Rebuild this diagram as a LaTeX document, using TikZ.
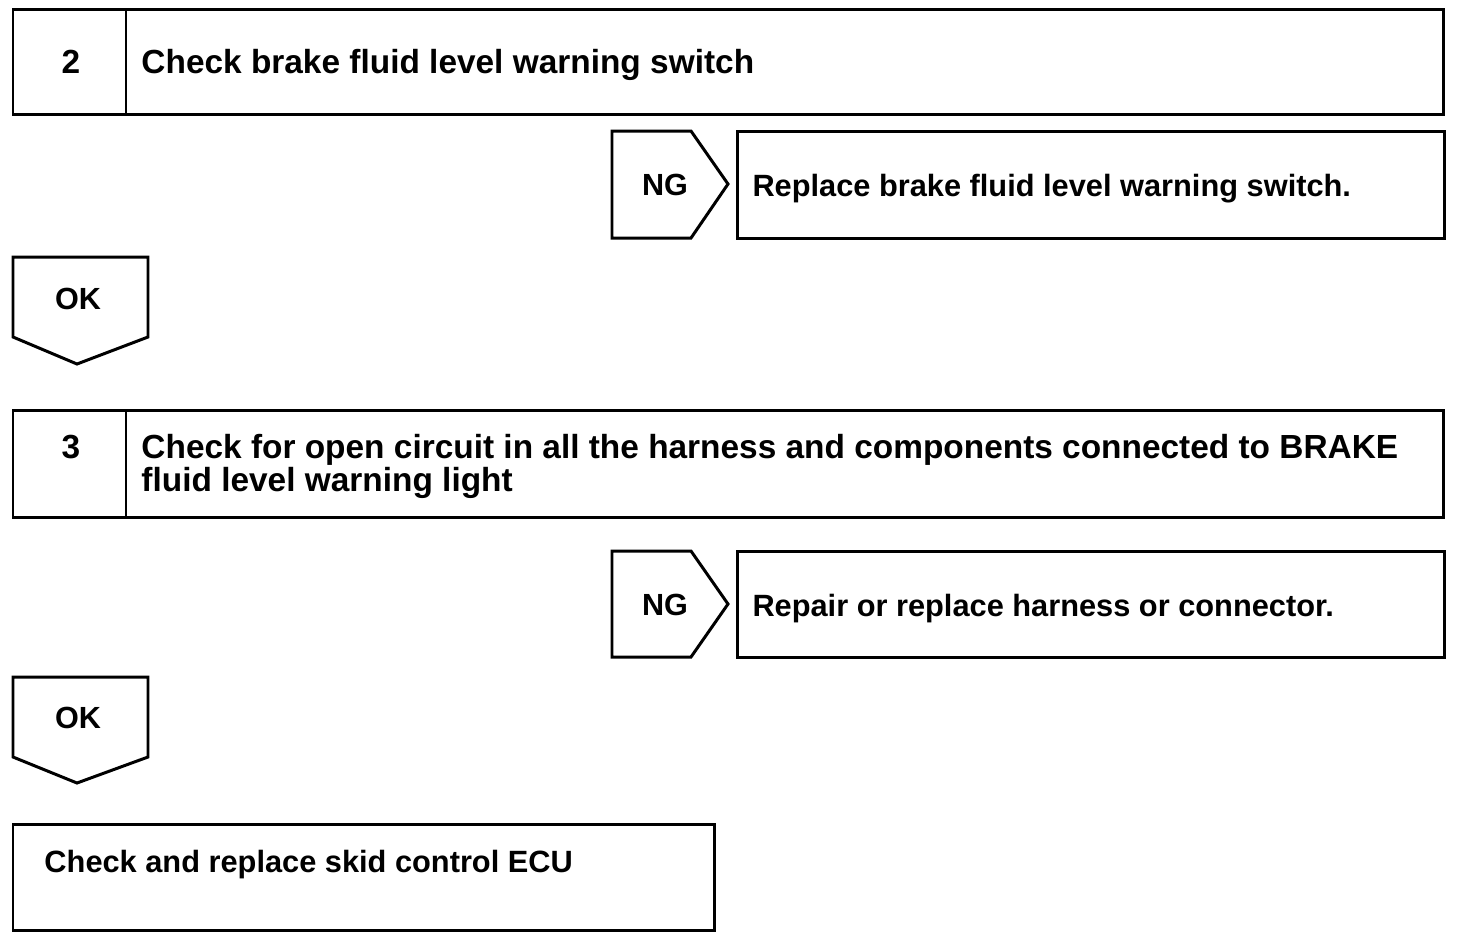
\documentclass[tikz,border=0pt]{standalone}
\usepackage{fontspec}
\setmainfont{Liberation Sans}
\begin{document}
\begin{tikzpicture}[line join = miter,x = 0.01cm,y = -0.01cm,line width = 0.85pt,
	txt/.style = {font=\bfseries\fontsize{9.5}{11}\selectfont,inner sep=0pt,anchor=base west},
	sub/.style = {txt,font=\bfseries\fontsize{8.75}{10}\selectfont},
	num/.style = {txt,anchor=base},
	tag/.style = {num,font=\bfseries\fontsize{8.7}{10}\selectfont}]
	\useasboundingbox (0,0) rectangle (1472,944);
	%Bước 2
	\draw (13,9) rectangle (1443,114);
	\draw (126,9)--(126,114);
	\node[num] (n2) at (71,73) {2};
	\node[txt] (s2) at (140,73) {Check brake fluid level warning switch};
	%Nhánh NG 1
	\draw (612,131)--(691,131)--(728,184)--(691,238)--(612,238)--cycle;
	\node[tag] (ng1) at (665,195) {NG};
	\draw (737,131) rectangle (1444,238);
	\node[sub] (r1) at (751,196) {Replace brake fluid level warning switch.};
	%Nhánh OK 1
	\draw (13,257)--(148,257)--(148,337)--(77,364)--(13,337)--cycle;
	\node[tag] (ok1) at (78,309) {OK};
	%Bước 3
	\draw (13,410) rectangle (1443,517);
	\draw (126,410)--(126,517);
	\node[num] (n3) at (71,458) {3};
	\node[txt] (s3a) at (140,458) {Check for open circuit in all the harness and components connected to BRAKE};
	\node[txt] (s3b) at (140,491) {fluid level warning light};
	%Nhánh NG 2
	\draw (612,551)--(691,551)--(728,604)--(691,657)--(612,657)--cycle;
	\node[tag] (ng2) at (665,615) {NG};
	\draw (737,551) rectangle (1444,657);
	\node[sub] (r2) at (751,616) {Repair or replace harness or connector.};
	%Nhánh OK 2
	\draw (13,677)--(148,677)--(148,757)--(77,783)--(13,757)--cycle;
	\node[tag] (ok2) at (78,728) {OK};
	%Kết luận
	\draw (13,824) rectangle (714,930);
	\node[sub] (e) at (43,872) {Check and replace skid control ECU};
\end{tikzpicture}
\end{document}
